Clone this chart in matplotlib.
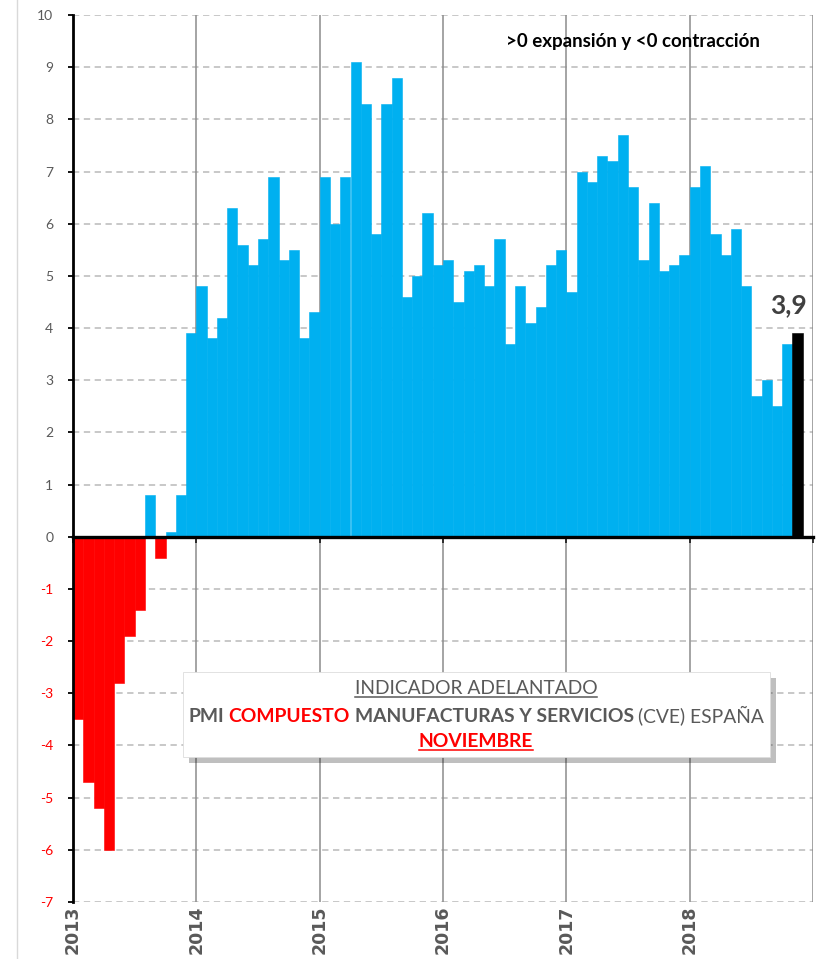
import matplotlib
matplotlib.use('Agg')
import matplotlib.pyplot as plt
from matplotlib.patches import Rectangle
from matplotlib.lines import Line2D
import matplotlib.patheffects as pe
import numpy as np

# ---------------- data ----------------
years = ['2013', '2014', '2015', '2016', '2017', '2018']
values = [-3.5, -4.7, -5.2, -6.0, -2.8, -1.9, -1.4, 0.8, -0.4, 0.1, 0.8, 3.9,   # 2013
          4.8, 3.8, 4.2, 6.3, 5.6, 5.2, 5.7, 6.9, 5.3, 5.5, 3.8, 4.3,            # 2014
          6.9, 6.0, 6.9, 9.1, 8.3, 5.8, 8.3, 8.8, 4.6, 5.0, 6.2, 5.2,            # 2015
          5.3, 4.5, 5.1, 5.2, 4.8, 5.7, 3.7, 4.8, 4.1, 4.4, 5.2, 5.5,            # 2016
          4.7, 7.0, 6.8, 7.3, 7.2, 7.7, 6.7, 5.3, 6.4, 5.1, 5.2, 5.4,            # 2017
          6.7, 7.1, 5.8, 5.4, 5.9, 4.8, 2.7, 3.0, 2.5, 3.7, 3.9]                 # 2018
y_ticks = list(range(-7, 11))
note_text = '>0 expansión y <0 contracción'
title_line1 = 'INDICADOR ADELANTADO'
title_line2 = [('PMI', 'bold', 'grey'), ('COMPUESTO', 'bold', 'red'),
               ('MANUFACTURAS Y SERVICIOS', 'bold', 'grey'), ('(CVE) ESPAÑA', 'normal', 'grey')]
title_line3 = 'NOVIEMBRE'

# ---------------- style ----------------
BLUE = '#00B0F0'
RED = '#FF0000'
GREY = '#595959'
FONT = 'Lato'

W, H = 817, 959
fig = plt.figure(figsize=(W / 100, H / 100), dpi=100)
ax = fig.add_axes([73 / W, 57 / H, 740 / W, 887 / H])

n = len(values)
x = np.arange(n) + 0.5
colors = [RED if v < 0 else BLUE for v in values]
colors[-1] = 'black'
ax.bar(x, values, width=1.0, color=colors, edgecolor=colors, linewidth=0.4, zorder=3)

months_per_year = 12
ax.set_xlim(0, months_per_year * len(years))
ax.set_ylim(min(y_ticks), max(y_ticks))

# grid
ax.set_yticks(y_ticks)
ax.set_yticklabels([str(t) for t in y_ticks], fontfamily=FONT, fontsize=10)
for lab, t in zip(ax.get_yticklabels(), y_ticks):
    lab.set_color(RED if t < 0 else GREY)
for t in y_ticks:
    if t != 0:
        ax.axhline(t, color='#C4C4C4', lw=1.3, linestyle=(0, (3.5, 2.5)), zorder=1)
for i in range(1, len(years) + 1):
    ax.axvline(months_per_year * i, color='#8C8C8C', lw=1.1, zorder=1)

# spines / ticks
for s in ['top', 'right']:
    ax.spines[s].set_visible(False)
ax.spines['left'].set_color('black')
ax.spines['left'].set_linewidth(2)
ax.spines['left'].set_zorder(4)
ax.spines['bottom'].set_position(('data', 0))
ax.spines['bottom'].set_color('black')
ax.spines['bottom'].set_linewidth(2.4)
ax.spines['bottom'].set_zorder(4)
ax.set_xticks([months_per_year * i for i in range(len(years) + 1)])
ax.tick_params(axis='x', direction='out', length=4, width=1.3, color='#222222', labelbottom=False)
ax.tick_params(axis='y', direction='out', length=3.6, width=1.3, color='black', pad=10.5)

# year labels
for i, yr in enumerate(years):
    ax.text(months_per_year * i, -0.004, yr, transform=ax.get_xaxis_transform(),
            rotation=90, ha='center', va='top', fontsize=12.5, fontweight='bold',
            fontfamily='DejaVu Sans', color=GREY)

# last value label
ax.annotate(f'{values[-1]:.1f}'.replace('.', ','), xy=(x[-1], values[-1]),
            xytext=(-9, 20), textcoords='offset pixels', ha='center', va='baseline',
            fontsize=19, fontweight='bold', fontfamily=FONT, color='#404040', zorder=6)

# info box
box = Rectangle((0.149, 0.163), 0.793, 0.096, transform=ax.transAxes, facecolor='white',
                edgecolor='#DDDDDD', lw=0.6, zorder=5,
                path_effects=[pe.withSimplePatchShadow(offset=(4, -4), shadow_rgbFace='black', alpha=0.25)])
ax.add_patch(box)

# left border of the chart area
fig.add_artist(Line2D([17 / W, 17 / W], [0, 1], transform=fig.transFigure, color='#D9D9D9', lw=1))

fig.canvas.draw()
renderer = fig.canvas.get_renderer()


def measure(s, size, weight):
    t = fig.text(0, 0, s, fontsize=size, fontweight=weight, fontfamily=FONT)
    bb = t.get_window_extent(renderer)
    t.remove()
    return bb.width


def put(s, xpx, ypx, size, weight, color, ha='left', underline=False):
    t = fig.text(xpx / W, ypx / H, s, fontsize=size, fontweight=weight, fontfamily=FONT,
                 color=color, ha=ha, va='baseline', zorder=10)
    if underline:
        fig.canvas.draw()
        bb = t.get_window_extent(renderer)
        fig.add_artist(Line2D([bb.x0 / W, bb.x1 / W], [(ypx - 2.5) / H] * 2,
                              transform=fig.transFigure, color=color, lw=1.1, zorder=10))
    return t


# top note, fitted to its width
note_size = 11 * 255 / measure(note_text, 11, 'bold')
put(note_text, 632.5, H - 46.7, note_size, 'bold', 'black', ha='center')

# line 2 fitted (space = 0.22 em)
base = 12
space = 0.22 * base * 100 / 72
widths = [measure(s, base, w) for s, w, c in title_line2]
total = sum(widths) + space * (len(widths) - 1)
size = base * 575 / total
scale = size / base
cx = 476
xpos = cx - total * scale / 2
for (s, w, c), wd in zip(title_line2, widths):
    put(s, xpos, H - 721.7, size, w, RED if c == 'red' else GREY)
    xpos += (wd + space) * scale

put(title_line1, cx, H - 694.3, size, 'normal', GREY, ha='center', underline=True)
put(title_line3, cx, H - 747.3, size, 'bold', RED, ha='center', underline=True)

fig.savefig('out.png', dpi=100)
